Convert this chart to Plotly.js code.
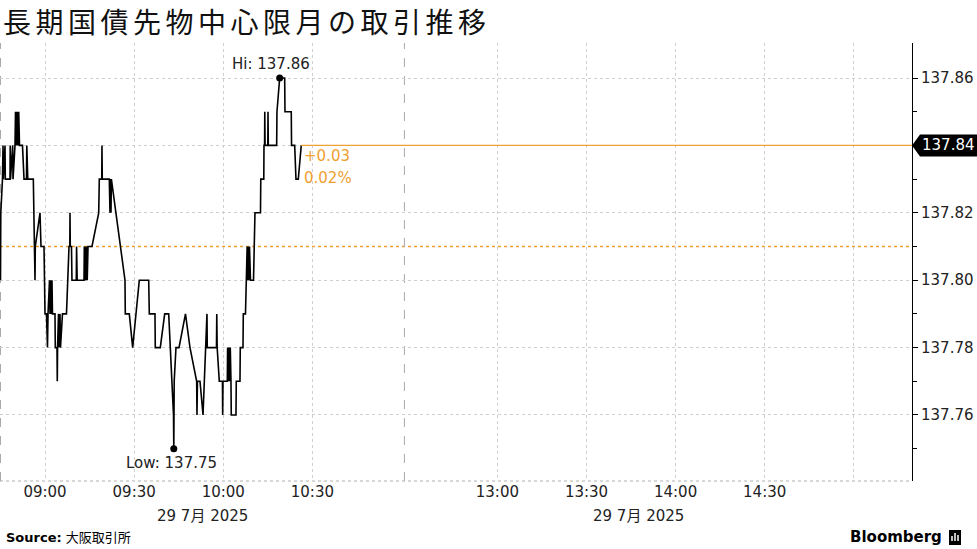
<!DOCTYPE html>
<html>
<head>
<meta charset="utf-8">
<script src="https://cdn.plot.ly/plotly-3.0.1.min.js"></script>
<style>
html,body{margin:0;padding:0;background:#fff;}
#chart{width:977px;height:549px;}
.gtitle{letter-spacing:4.5px;}
</style>
</head>
<body>
<div id="chart"></div>
<script>
// ---- data ----
const titleText = "長期国債先物中心限月の取引推移";
const times = [
"08:45:00","08:45:06","08:45:40","08:45:51","08:45:57","08:46:31","08:46:37","08:48:12","08:48:16","08:48:22",
"08:49:06","08:49:13","08:49:53","08:50:03","08:50:13","08:50:23","08:50:33","08:50:43","08:50:58","08:51:08",
"08:51:24","08:52:24","08:52:55","08:53:45","08:53:51","08:54:11","08:56:03","08:56:23","08:56:37","08:56:43",
"08:58:18","08:58:38","08:59:39","08:59:59","09:00:29","09:00:49","09:01:00","09:01:30","09:01:40","09:01:50",
"09:02:00","09:02:20","09:02:30","09:03:21","09:03:27","09:04:01","09:04:07","09:04:13","09:04:32","09:04:42",
"09:05:02","09:05:12","09:05:52","09:07:13","09:08:04","09:08:20","09:08:24","09:08:30","09:08:54","09:09:04",
"09:10:31","09:10:37","09:10:49","09:13:07","09:13:13","09:13:27","09:13:37","09:13:47","09:13:57","09:14:12",
"09:14:28","09:15:48","09:18:04","09:18:16","09:19:06","09:19:10","09:19:16","09:21:38","09:21:52","09:21:58",
"09:22:12","09:22:20","09:26:55","09:27:01","09:28:22","09:29:30","09:31:44","09:34:54","09:35:06","09:37:01",
"09:37:07","09:38:48","09:40:17","09:41:38","09:43:15","09:43:21","09:43:29","09:44:05","09:45:06","09:47:17",
"09:48:48","09:51:03","09:51:09","09:51:19","09:52:10","09:53:11","09:54:31","09:54:37","09:57:43","09:57:49",
"09:57:57","09:58:40","09:59:44","09:59:48","09:59:55","10:01:22","10:01:28","10:01:40","10:01:56","10:02:06",
"10:02:22","10:02:36","10:02:42","10:04:17","10:04:23","10:05:38","10:05:44","10:06:39","10:06:45","10:07:29",
"10:08:03","10:08:11","10:08:24","10:08:36","10:08:50","10:09:10","10:10:11","10:10:41","10:12:32","10:12:38",
"10:13:39","10:13:43","10:13:55","10:13:59","10:14:05","10:15:00","10:15:04","10:15:10","10:17:59","10:18:05",
"10:19:00","10:20:41","10:20:47","10:22:54","10:23:00","10:24:03","10:24:29","10:25:16","10:26:16"
];
const prices = [
137.80,137.82,137.83,137.84,137.83,137.84,137.83,137.83,137.84,137.83,
137.84,137.83,137.84,137.85,137.84,137.85,137.84,137.85,137.84,137.85,
137.84,137.84,137.83,137.83,137.84,137.83,137.83,137.81,137.80,137.81,
137.82,137.81,137.81,137.79,137.79,137.78,137.79,137.80,137.79,137.80,
137.79,137.80,137.79,137.79,137.78,137.78,137.77,137.78,137.79,137.78,
137.79,137.78,137.79,137.79,137.81,137.81,137.82,137.81,137.81,137.80,
137.80,137.81,137.80,137.80,137.81,137.80,137.81,137.80,137.81,137.80,
137.81,137.81,137.82,137.83,137.83,137.84,137.83,137.83,137.82,137.83,
137.82,137.83,137.80,137.79,137.79,137.78,137.80,137.80,137.79,137.79,
137.78,137.78,137.79,137.79,137.76,137.75,137.77,137.78,137.78,137.79,
137.78,137.77,137.76,137.77,137.77,137.76,137.79,137.78,137.78,137.79,
137.78,137.77,137.77,137.76,137.77,137.77,137.78,137.77,137.78,137.77,
137.78,137.77,137.76,137.76,137.77,137.77,137.78,137.78,137.79,137.79,
137.81,137.80,137.81,137.80,137.81,137.80,137.80,137.82,137.82,137.83,
137.83,137.84,137.84,137.85,137.84,137.84,137.85,137.84,137.84,137.85,
137.86,137.86,137.85,137.85,137.84,137.84,137.83,137.83,137.84
];
const prevClose = 137.81;
const tickTimes  = ["09:00","09:30","10:00","10:30","13:00","13:30","14:00","14:30","15:00"];
const tickLabels = ["09:00","09:30","10:00","10:30","13:00","13:30","14:00","14:30",""];
const yTickVals  = [137.76,137.78,137.80,137.82,137.84,137.86];
const yMinorVals = [137.75,137.77,137.79,137.81,137.83,137.85];
const sessions   = [["08:45","11:01"],["12:30","15:05"]];
const dateLabel  = "29 7月 2025";
const sourceText = "<b>Source:</b> 大阪取引所";

// ---- time scale (sessions joined, lunch break removed) ----
const AFTERNOON_START = 137.3; // axis position of 12:30
function toT(s){
  const p = s.split(":").map(Number);
  const m = p[0]*60 + p[1] + (p[2]||0)/60;
  if (p[0] < 12) return m - (8*60+45);
  return AFTERNOON_START + (m - (12*60+30));
}
const xs = times.map(toT);
const xRange = [-0.168, 306.9];
const yRange = [137.7404, 137.8704];

const last = prices[prices.length-1];
const lastT = xs[xs.length-1];
let hiI = 0, loI = 0;
prices.forEach((v,i)=>{ if (v > prices[hiI]) hiI = i; if (v < prices[loI]) loI = i; });
const chg = last - prevClose;
const pct = chg / prevClose * 100;

const ORANGE = "#f0a030";
const FONT = "DejaVu Sans, Noto Sans CJK JP, sans-serif";

const traces = [
  {x: xs, y: prices, type: "scatter", mode: "lines",
   line: {color: "#000", width: 1.6}, hoverinfo: "skip"},
  {x: [xs[hiI], xs[loI]], y: [prices[hiI], prices[loI]], type: "scatter", mode: "markers",
   marker: {color: "#000", size: 7}, hoverinfo: "skip"}
];

const shapes = [
  {type:"line", xref:"paper", x0:0, x1:1, yref:"y", y0:prevClose, y1:prevClose,
   line:{color:ORANGE, width:1.5, dash:"dot"}, layer:"below"},
  {type:"line", xref:"x", x0:lastT, x1:xRange[1], yref:"y", y0:last, y1:last,
   line:{color:ORANGE, width:1.2}},
  {type:"line", xref:"x", x0:toT(sessions[0][0]), x1:toT(sessions[0][0]), yref:"paper", y0:0, y1:1,
   line:{color:"#aaaaaa", width:1, dash:"dash"}, layer:"below"},
  {type:"line", xref:"x", x0:toT(sessions[0][1]), x1:toT(sessions[0][1]), yref:"paper", y0:0, y1:1,
   line:{color:"#aaaaaa", width:1, dash:"dash"}, layer:"below"},
  {type:"line", xref:"paper", x0:0, x1:1, yref:"paper", y0:0, y1:0,
   line:{color:"#b0b0b0", width:1, dash:"dot"}},
  {type:"path", xref:"paper", xsizemode:"pixel", xanchor:1, yref:"y", ysizemode:"pixel", yanchor:last,
   path:"M0,0 L8,11 L66,11 L66,-11 L8,-11 Z", fillcolor:"#000", line:{width:0}, layer:"above"},
  {type:"rect", xref:"paper", yref:"paper", x0:949/912, x1:961/912, y0:(481-545)/438, y1:(481-530)/438,
   fillcolor:"#000", line:{width:0}},
  {type:"line", xref:"paper", yref:"paper", x0:952/912, x1:952/912, y0:(481-541)/438, y1:(481-536)/438, line:{color:"#fff", width:1.5}},
  {type:"line", xref:"paper", yref:"paper", x0:955/912, x1:955/912, y0:(481-541)/438, y1:(481-533)/438, line:{color:"#fff", width:1.5}},
  {type:"line", xref:"paper", yref:"paper", x0:958/912, x1:958/912, y0:(481-541)/438, y1:(481-535)/438, line:{color:"#fff", width:1.5}}
];

const annotations = [
  {xref:"x", x:xs[hiI], yref:"y", y:prices[hiI], text:"Hi: " + prices[hiI].toFixed(2),
   showarrow:false, xanchor:"center", yanchor:"bottom", xshift:-9, yshift:3,
   font:{family:FONT, size:15, color:"#222"}},
  {xref:"x", x:xs[loI], yref:"y", y:prices[loI], text:"Low: " + prices[loI].toFixed(2),
   showarrow:false, xanchor:"center", yanchor:"top", xshift:-2, yshift:-3,
   font:{family:FONT, size:15, color:"#222"}},
  {xref:"x", x:lastT, yref:"y", y:last, text:(chg>=0?"+":"") + chg.toFixed(2),
   showarrow:false, xanchor:"left", yanchor:"middle", xshift:1, yshift:-11,
   font:{family:FONT, size:15, color:ORANGE}},
  {xref:"x", x:lastT, yref:"y", y:last, text:pct.toFixed(2) + "%",
   showarrow:false, xanchor:"left", yanchor:"middle", xshift:1, yshift:-33,
   font:{family:FONT, size:15, color:ORANGE}},
  {xref:"paper", x:1, yref:"y", y:last, text:last.toFixed(2),
   showarrow:false, xanchor:"left", yanchor:"middle", xshift:8,
   font:{family:FONT, size:15, color:"#fff"}},
  {xref:"x", x:(toT(sessions[0][0])+toT(sessions[0][1]))/2, yref:"paper", y:(481-516)/438, text:dateLabel,
   showarrow:false, xanchor:"center", yanchor:"middle",
   font:{family:FONT, size:15, color:"#222"}},
  {xref:"x", x:(toT(sessions[1][0])+toT(sessions[1][1]))/2, yref:"paper", y:(481-516)/438, text:dateLabel,
   showarrow:false, xanchor:"center", yanchor:"middle",
   font:{family:FONT, size:15, color:"#222"}},
  {xref:"paper", x:4/912, yref:"paper", y:(481-537)/438, text:sourceText,
   showarrow:false, xanchor:"left", yanchor:"middle",
   font:{family:FONT, size:13, color:"#000"}},
  {xref:"paper", x:944/912, yref:"paper", y:(481-537)/438, text:"<b>Bloomberg</b>",
   showarrow:false, xanchor:"right", yanchor:"middle",
   font:{family:FONT, size:15, color:"#000"}}
];

const layout = {
  width: 977, height: 549,
  margin: {l:0, r:65, t:43, b:68},
  paper_bgcolor: "#fff", plot_bgcolor: "#fff",
  showlegend: false,
  title: {text: titleText, xref:"container", yref:"container", x: 3/977, xanchor:"left",
          y: 1 - 23/549, yanchor:"middle",
          font:{family:"Noto Sans CJK JP, sans-serif", size:28, color:"#111"}},
  xaxis: {
    type:"linear", range:xRange, fixedrange:true,
    tickmode:"array", tickvals: tickTimes.map(toT), ticktext: tickLabels,
    showgrid:true, gridcolor:"#cfcfcf", griddash:"dot", gridwidth:1,
    zeroline:false, showline:false, ticks:"",
    tickfont:{family:FONT, size:15, color:"#222"}
  },
  yaxis: {
    side:"right", range:yRange, fixedrange:true,
    tickmode:"array", tickvals:yTickVals, ticktext:yTickVals.map(v=>v.toFixed(2)),
    showgrid:true, gridcolor:"#cfcfcf", griddash:"dot", gridwidth:1,
    zeroline:false, showline:true, linecolor:"#000", linewidth:1,
    ticks:"outside", ticklen:5, tickcolor:"#000", tickwidth:1,
    minor:{tickmode:"array", tickvals:yMinorVals, ticks:"outside", ticklen:4, tickcolor:"#000", showgrid:false},
    tickfont:{family:FONT, size:15, color:"#222"}
  },
  shapes: shapes,
  annotations: annotations
};

Plotly.newPlot("chart", traces, layout, {displayModeBar:false, staticPlot:true});
</script>
</body>
</html>
